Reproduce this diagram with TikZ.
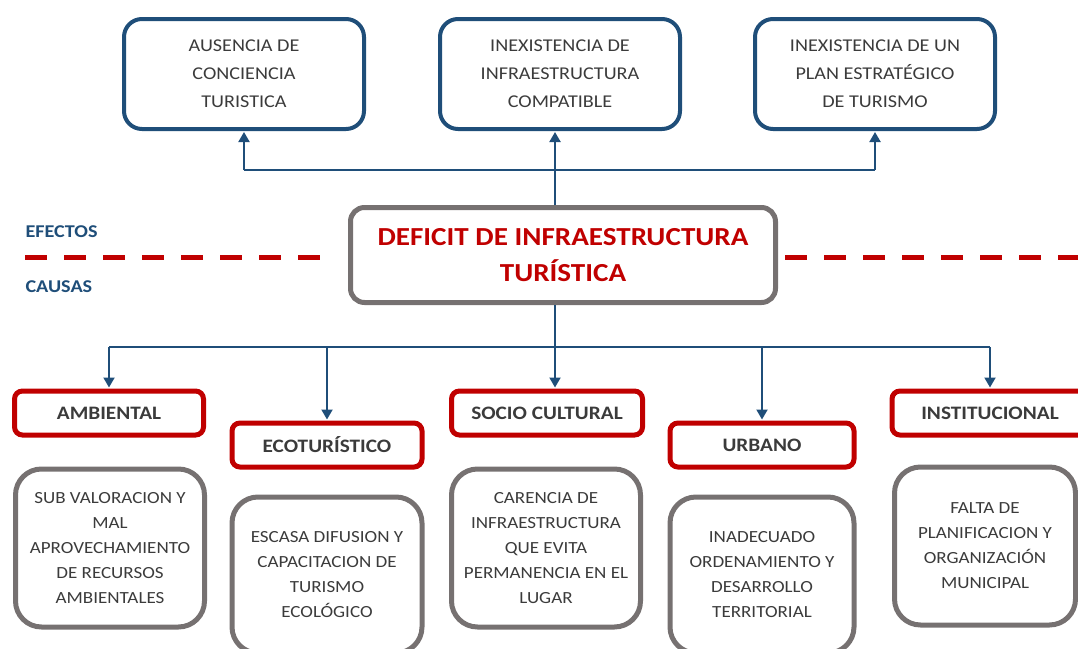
\documentclass[tikz,border=0pt]{standalone}
\usepackage{fontspec}
\setmainfont{Carlito}[FakeStretch=1.12]
\usepackage{xcolor}
\usepackage{tikz}
\usetikzlibrary{arrows.meta}
\definecolor{efblue}{HTML}{1F4E79}
\definecolor{defred}{HTML}{C00000}
\definecolor{boxgray}{HTML}{767171}
\definecolor{txtgray}{HTML}{3B3B3B}

\begin{document}
\begin{tikzpicture}[x=1pt,y=-1pt,
  efecto/.style={draw=efblue,line width=4pt,rounded corners=18pt,minimum width=240pt,minimum height=110pt,align=center,text=txtgray,font=\fontsize{18}{28}\selectfont},
  problema/.style={draw=boxgray,line width=5pt,rounded corners=14pt,minimum width=425pt,minimum height=95pt,align=center,text=defred,font=\fontsize{26}{36}\selectfont\bfseries},
  tipo/.style={draw=defred,line width=5pt,rounded corners=8pt,minimum height=44pt,text=txtgray,font=\fontsize{19}{22}\selectfont\bfseries},
  causa/.style={draw=boxgray,line width=5pt,rounded corners=26pt,minimum width=189pt,minimum height=158pt,align=center,text=txtgray,font=\fontsize{17}{25}\selectfont},
  flecha/.style={draw=efblue,line width=2pt,-{Triangle[width=11pt,length=10pt]},shorten >=1pt},
  linea/.style={draw=efblue,line width=2pt},
  corte/.style={draw=defred,line width=5pt,dash pattern=on 22pt off 17pt},
  etiqueta/.style={anchor=west,text=efblue,font=\fontsize{18}{20}\selectfont\bfseries}]
\useasboundingbox (0,0) rectangle (1078,648);
\clip (0,0) rectangle (1078,648);

% efectos
\node[efecto] (ef1) at (244,74) {AUSENCIA DE\\CONCIENCIA\\TURISTICA};
\node[efecto] (ef2) at (560,74) {INEXISTENCIA DE\\INFRAESTRUCTURA\\COMPATIBLE};
\node[efecto] (ef3) at (875,74) {INEXISTENCIA DE UN\\PLAN ESTRAT\'EGICO\\DE TURISMO};

% problema central
\node[problema] (prob) at (563,255) {DEFICIT DE INFRAESTRUCTURA\\TUR\'ISTICA};

\node[etiqueta] (efectos) at (22,232) {EFECTOS};
\node[etiqueta] (causas) at (22,287) {CAUSAS};
\coordinate (izq) at (25,257);
\coordinate (der) at (1080,257);
\draw[corte] (izq) -- ([xshift=-28pt]prob.west |- izq);
\draw[corte] ([xshift=7pt]prob.east |- der) -- (der);

% tipos de causa
\node[tipo,minimum width=189pt] (amb) at (109,413) {AMBIENTAL};
\node[tipo,minimum width=190pt] (eco) at (327,445) {ECOTUR\'ISTICO};
\node[tipo,minimum width=191pt] (soc) at (547,413) {SOCIO CULTURAL};
\node[tipo,minimum width=184pt] (urb) at (762,445) {URBANO};
\node[tipo,minimum width=196pt] (ins) at (990,413) {INSTITUCIONAL};

% causas
\node[causa] (ca1) at (110,548) {SUB VALORACION Y\\MAL\\APROVECHAMIENTO\\DE RECURSOS\\AMBIENTALES};
\node[causa,minimum width=190pt,minimum height=156pt] (ca2) at (327,575) {ESCASA DIFUSION Y\\CAPACITACION DE\\TURISMO\\ECOL\'OGICO};
\node[causa] (ca3) at (546,548) {CARENCIA DE\\INFRAESTRUCTURA\\QUE EVITA\\PERMANENCIA EN EL\\LUGAR};
\node[causa,minimum width=184pt,minimum height=156pt] (ca4) at (762,575) {INADECUADO\\ORDENAMIENTO Y\\DESARROLLO\\TERRITORIAL};
\node[causa,minimum width=181pt] (ca5) at (985,546) {FALTA DE\\PLANIFICACION Y\\ORGANIZACI\'ON\\MUNICIPAL};

% conectores
\coordinate (arriba) at (555,170);
\coordinate (abajo) at (555,347);
\draw[flecha] (prob.north -| arriba) -- (ef2.south -| arriba);
\draw[linea] (arriba -| ef1) -- (arriba -| ef3);
\draw[flecha] (arriba -| ef1) -- (ef1.south);
\draw[flecha] (arriba -| ef3) -- (ef3.south);
\draw[linea] (prob.south -| abajo) -- (abajo);
\draw[linea] (abajo -| amb) -- (abajo -| ins);
\draw[flecha] (abajo -| amb) -- (amb.north);
\draw[flecha] (abajo -| eco) -- (eco.north);
\draw[flecha] (abajo) -- (soc.north -| abajo);
\draw[flecha] (abajo -| urb) -- (urb.north);
\draw[flecha] (abajo -| ins) -- (ins.north);
\end{tikzpicture}
\end{document}
